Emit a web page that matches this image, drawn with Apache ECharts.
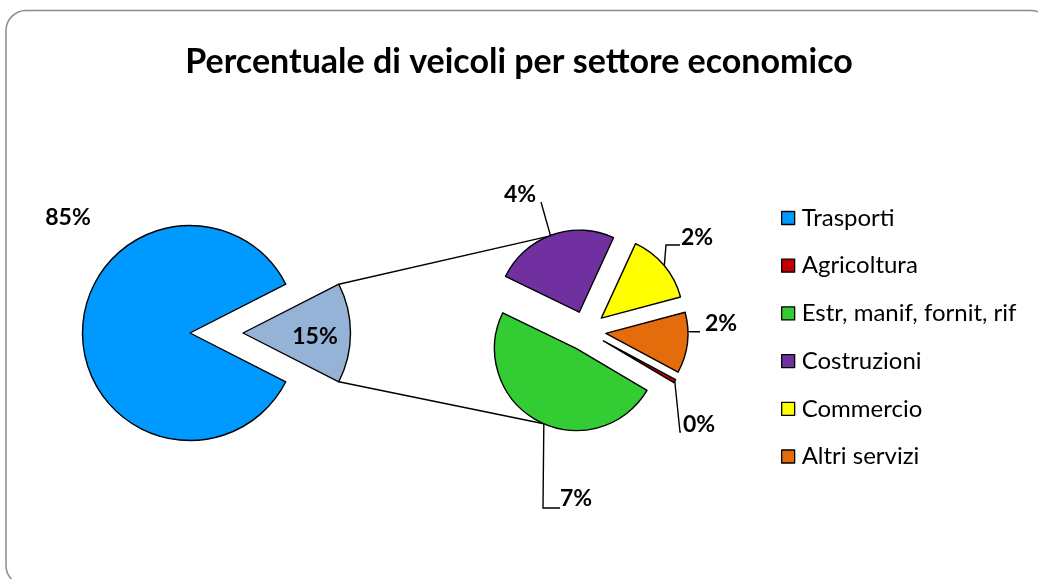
<!DOCTYPE html>
<html>
<head>
<meta charset="utf-8">
<script src="https://cdn.jsdelivr.net/npm/echarts@6/dist/echarts.min.js"></script>
<style>
html, body { margin: 0; padding: 0; background: #fff; }
#chart { width: 1038px; height: 579px; }
</style>
</head>
<body>
<div id="chart"></div>
<script>
// torta principale: Trasporti contro il resto
const mainNames = ['Trasporti', 'Altro']
const mainValues = [85.0, 15.0]
// torta secondaria: dettaglio del 15%
const detailNames = ['Agricoltura', 'Estr, manif, fornit, rif', 'Costruzioni', 'Commercio', 'Altri servizi']
const detailValues = [0.1, 7.3, 3.7, 2.1, 1.8]
const legendNames = ['Trasporti', 'Agricoltura', 'Estr, manif, fornit, rif', 'Costruzioni', 'Commercio', 'Altri servizi']

const colorOf = {
  'Trasporti': '#0099FF',
  'Altro': '#95B3D7',
  'Agricoltura': '#C00000',
  'Estr, manif, fornit, rif': '#33CC33',
  'Costruzioni': '#7030A0',
  'Commercio': '#FFFF00',
  'Altri servizi': '#E46C0A'
}

// geometria (pixel)
const LEFT = { c: [190, 333], r: 107.5, explode: 53 }
const RIGHT = { c: [586, 331], r: 82, explode: 20, start: -28.3 }
const FONT = 'Lato'
const LINE_W = 1.4

// posizione etichette + linee guida (angolo di aggancio sull'arco, gomiti)
const labelPos = {
  'Trasporti': { at: [68, 218] },
  'Altro': { at: [315, 337] },
  'Agricoltura': { at: [699, 425], hook: -29.5, pts: [[680, 432], [681, 432]] },
  'Estr, manif, fornit, rif': { at: [576, 499], hook: -113.5, pts: [[543, 508], [560, 508]] },
  'Costruzioni': { at: [520, 195], hook: 110.6, pts: [[541, 202], [541, 202]] },
  'Commercio': { at: [697, 238], hook: 39.8, pts: [[666, 245], [680, 245]] },
  'Altri servizi': { at: [721, 324], hook: 1.2, pts: [[693, 331.7], [700, 331.7]] }
}

const rad = d => d * Math.PI / 180
const detailSum = detailValues.reduce((a, b) => a + b, 0)
const mainSum = mainValues.reduce((a, b) => a + b, 0)

// angolo medio di ogni fetta della torta secondaria (senso orario)
function detailMid(i) {
  let cum = 0
  for (let k = 0; k < i; k++) cum += detailValues[k]
  return RIGHT.start - (cum + detailValues[i] / 2) / detailSum * 360
}
function detailCenter(i) {
  const m = rad(detailMid(i))
  return [RIGHT.c[0] + RIGHT.explode * Math.cos(m), RIGHT.c[1] - RIGHT.explode * Math.sin(m)]
}
function detailArcPoint(i, ang) {
  const c = detailCenter(i)
  return [c[0] + RIGHT.r * Math.cos(rad(ang)), c[1] - RIGHT.r * Math.sin(rad(ang))]
}

const otherDeg = mainValues[1] / mainSum * 360
const mainStart = 360 - otherDeg / 2

// linee di collegamento tra le due torte
const lc = [LEFT.c[0] + LEFT.explode, LEFT.c[1]]
const topFrom = [lc[0] + LEFT.r * Math.cos(rad(otherDeg / 2)), lc[1] - LEFT.r * Math.sin(rad(otherDeg / 2))]
const botFrom = [lc[0] + LEFT.r * Math.cos(rad(otherDeg / 2)), lc[1] + LEFT.r * Math.sin(rad(otherDeg / 2))]
const topTo = detailArcPoint(2, 113)
const botTo = detailArcPoint(1, -113.5)

const pctLabel = {
  show: true,
  position: 'outside',
  formatter: p => Math.round(p.value) + '%',
  fontFamily: FONT,
  fontWeight: 'bold',
  fontSize: 23,
  color: '#000'
}

// una serie per fetta, le altre fette restano trasparenti (effetto "esploso")
function sliceSeries(names, values, k, center, radius, startAngle) {
  const visible = names[k]
  const p = labelPos[visible]
  return {
    type: 'pie',
    silent: true,
    center: center,
    radius: [0, radius],
    startAngle: startAngle,
    avoidLabelOverlap: false,
    itemStyle: { borderColor: '#000', borderWidth: LINE_W },
    label: pctLabel,
    labelLine: { show: p.hook !== undefined, lineStyle: { color: '#000', width: LINE_W } },
    labelLayout: function (params) {
      if (params.dataIndex !== k) return {}
      const out = { x: p.at[0], y: p.at[1], align: 'center', verticalAlign: 'middle' }
      if (p.hook !== undefined) {
        out.labelLinePoints = [detailArcPoint(k, p.hook), p.pts[0], p.pts[1]]
      }
      return out
    },
    data: names.map((n, i) => i === k
      ? { name: n, value: values[i], itemStyle: { color: colorOf[n] } }
      : {
          name: '_' + n,
          value: values[i],
          itemStyle: { color: 'rgba(0,0,0,0)', borderWidth: 0 },
          label: { show: false },
          labelLine: { show: false }
        })
  }
}

const series = [
  sliceSeries(mainNames, mainValues, 0, LEFT.c, LEFT.r, mainStart),
  sliceSeries(mainNames, mainValues, 1, lc, LEFT.r, mainStart)
]
detailNames.forEach((n, k) => {
  series.push(sliceSeries(detailNames, detailValues, k, detailCenter(k), RIGHT.r, RIGHT.start))
})

const chart = echarts.init(document.getElementById('chart'))
chart.setOption({
  animation: false,
  title: {
    text: 'Percentuale di veicoli per settore economico',
    left: 'center',
    top: 38,
    textStyle: { fontFamily: FONT, fontWeight: 'bold', fontSize: 34, color: '#000', lineHeight: 38 }
  },
  legend: {
    orient: 'vertical',
    left: 776,
    top: 200,
    icon: 'rect',
    itemWidth: 13,
    itemHeight: 13,
    itemGap: 21.7,
    selectedMode: false,
    data: legendNames,
    itemStyle: { borderColor: '#000', borderWidth: 1.3 },
    textStyle: { fontFamily: FONT, fontSize: 24, color: '#000', lineHeight: 26, padding: [0, 0, 0, 2] }
  },
  graphic: [
    {
      type: 'rect',
      z: 0,
      shape: { x: 6, y: 10.5, width: 1045, height: 575, r: 20 },
      style: { fill: null, stroke: '#8c8c8c', lineWidth: 1.5 }
    },
    {
      type: 'polyline',
      z: 1,
      shape: { points: [topFrom, topTo] },
      style: { stroke: '#000', lineWidth: LINE_W, fill: null }
    },
    {
      type: 'polyline',
      z: 1,
      shape: { points: [botFrom, botTo] },
      style: { stroke: '#000', lineWidth: LINE_W, fill: null }
    }
  ],
  series: series
})
</script>
</body>
</html>
